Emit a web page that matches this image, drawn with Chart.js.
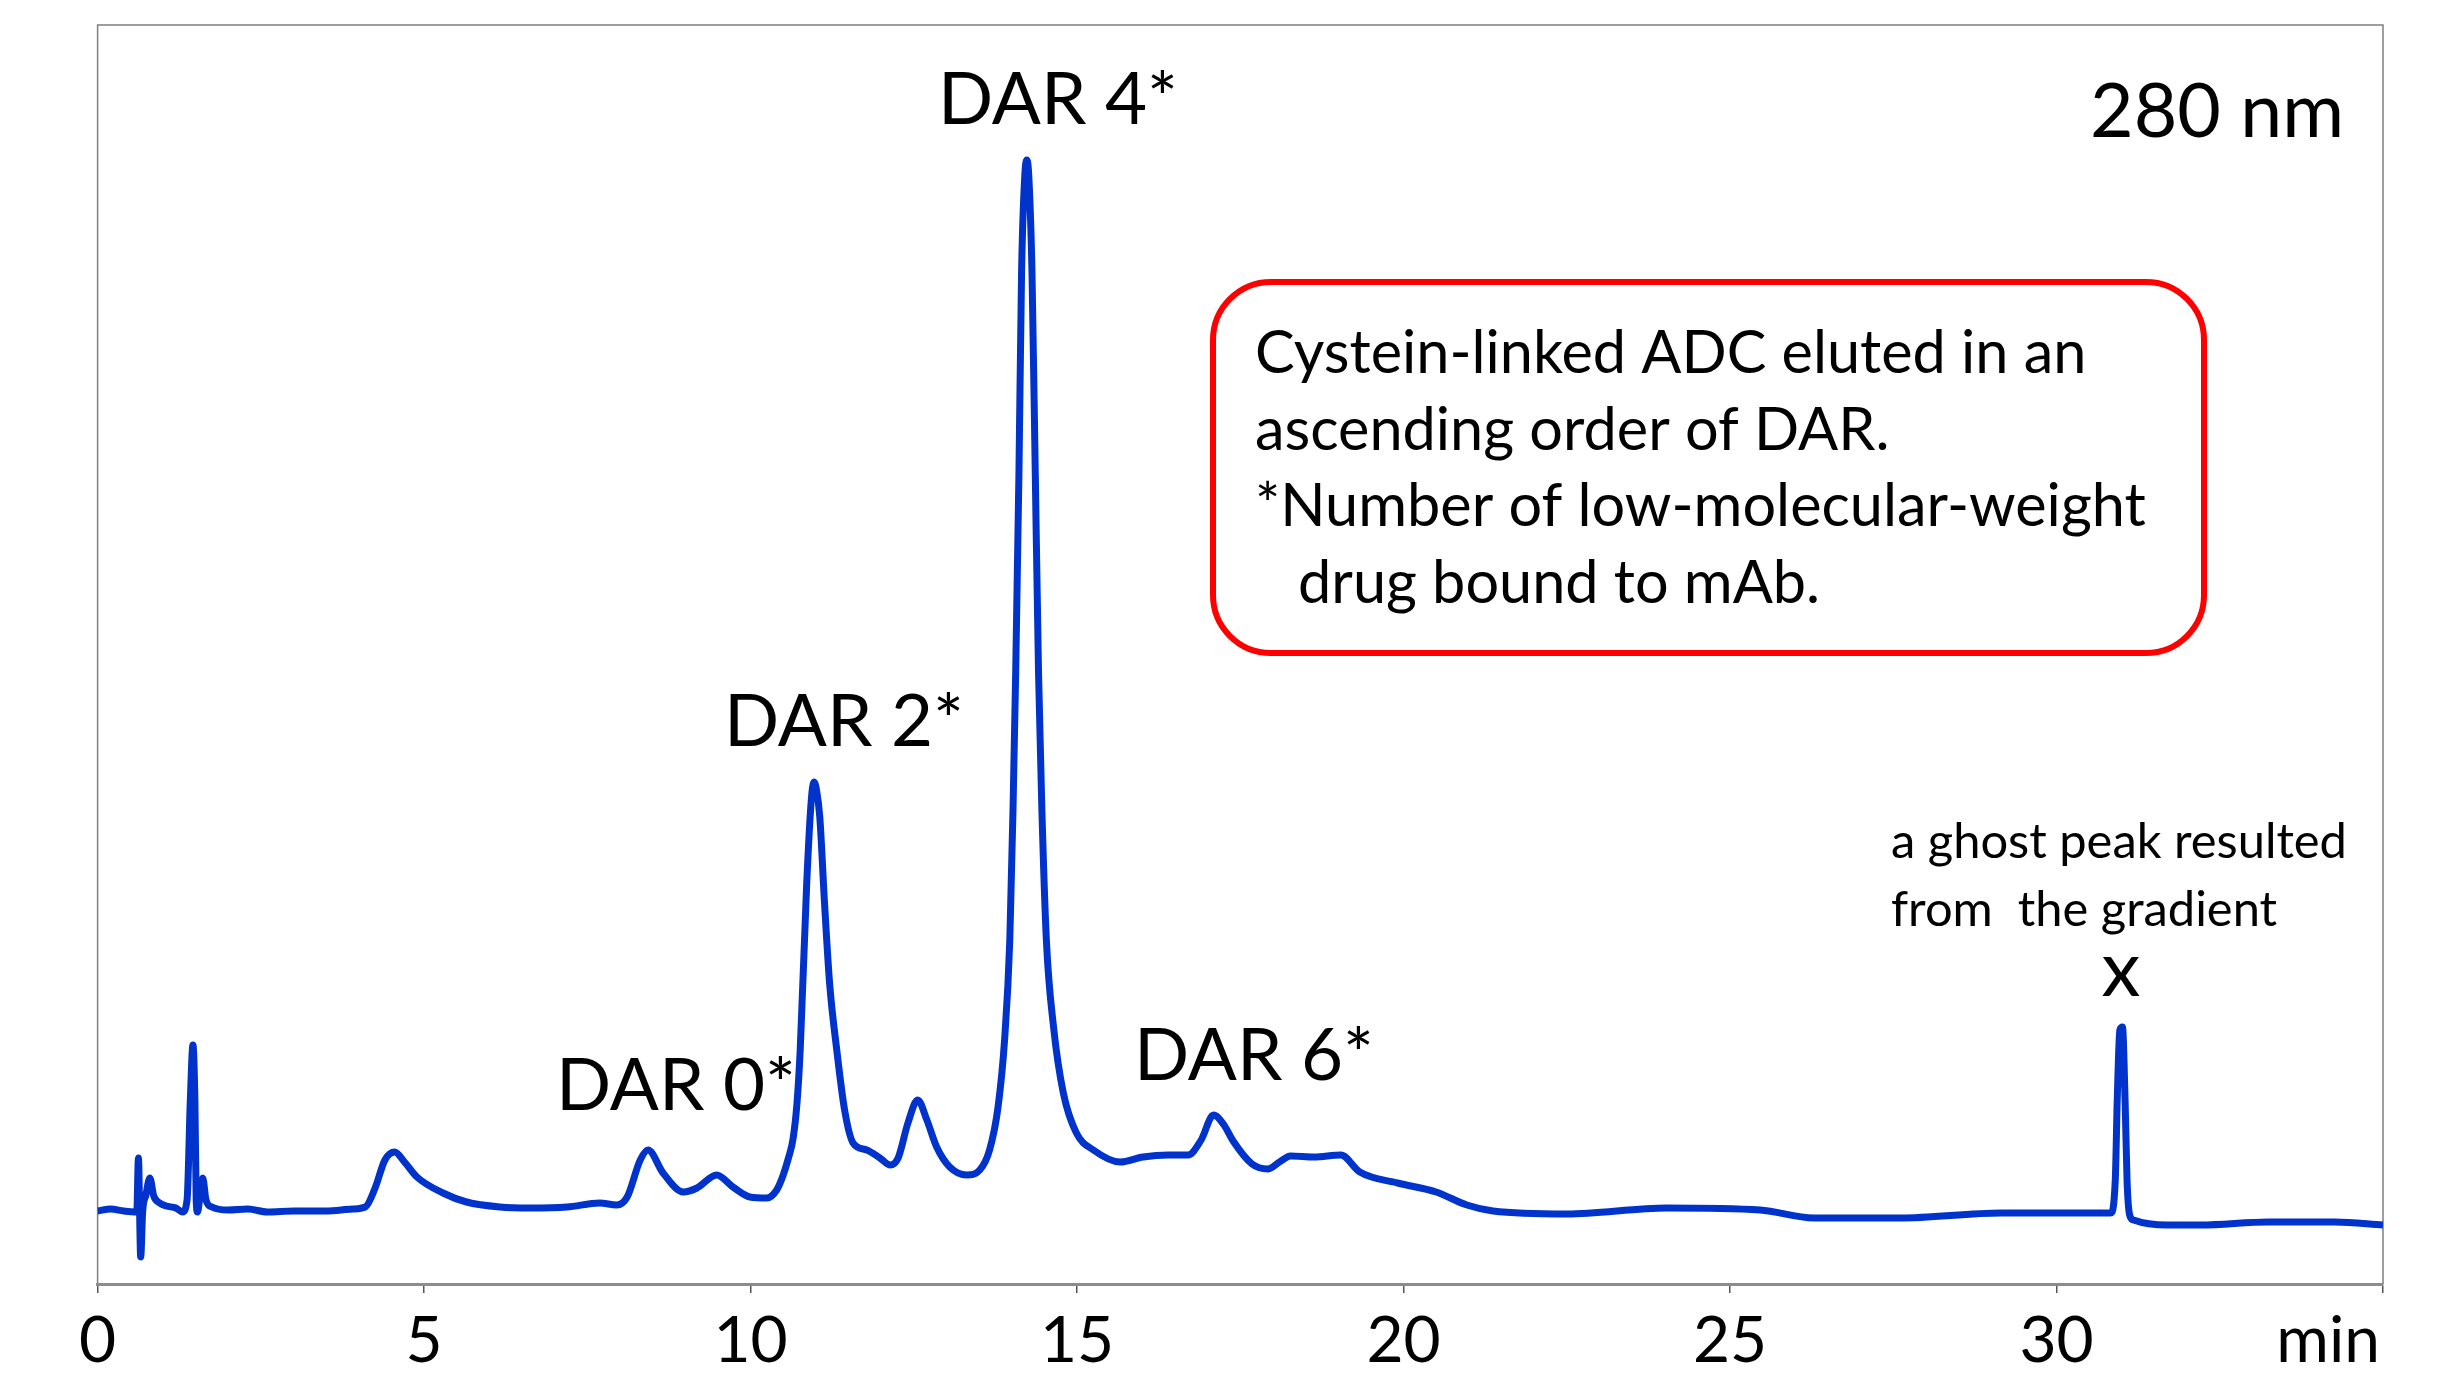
<!DOCTYPE html>
<html>
<head>
<meta charset="utf-8">
<title>Cysteine-linked ADC, 280 nm</title>
<script src="https://cdn.jsdelivr.net/npm/chart.js@4.4.1/dist/chart.umd.min.js"></script>
<style>
  html, body { margin: 0; padding: 0; background: #fff; }
  #wrap { width: 2447px; height: 1381px; position: relative; }
</style>
</head>
<body>
<div id="wrap"><canvas id="chromChart"></canvas></div>
<script>
// retention time (min) and 280 nm response (arbitrary units)
var retentionTime = [
  0, 0.2, 0.4, 0.6, 0.625, 0.66, 0.69, 0.74, 0.8, 0.86, 0.95, 1.05, 1.2, 1.3,
  1.37, 1.42, 1.46, 1.49, 1.51, 1.53, 1.57, 1.61, 1.66, 1.75, 2.0, 2.3, 2.6, 3.0,
  3.5, 3.9, 4.1, 4.25, 4.4, 4.55, 4.7, 4.89, 5.29, 5.65, 6.16, 6.62, 7.19, 7.69,
  7.95, 8.11, 8.31, 8.43, 8.66, 8.97, 9.18, 9.48, 9.73, 9.99, 10.25, 10.4,
  10.5, 10.58, 10.65, 10.71, 10.76, 10.86, 10.93, 10.97, 11.01, 11.06, 11.13, 11.21, 11.32,
  11.44, 11.57, 11.78, 11.98, 12.14, 12.26, 12.41, 12.56, 12.7, 12.85, 13.05, 13.31,
  13.51, 13.66, 13.79, 13.89, 13.97, 14.02, 14.06, 14.11, 14.15, 14.2, 14.23, 14.26,
  14.31, 14.36, 14.41, 14.46, 14.53, 14.64, 14.79, 14.99, 15.25, 15.66, 16.01, 16.4,
  16.7, 16.9, 17.09, 17.25, 17.39, 17.68, 17.92, 18.1, 18.27, 18.63, 19.04, 19.33,
  19.91, 20.5, 20.97, 21.37, 22.5, 24.03, 25.46, 26.28, 27.6, 29.15, 30.83, 30.9,
  30.93, 30.97, 31.01, 31.05, 31.08, 31.12, 31.18, 31.7, 32.21, 33.24, 34.26, 35
];
var absorbance = [
  7.3, 7.5, 7.3, 7.2, 12.6, 2.7, 7.2, 8.9, 10.6, 8.8, 8.1, 7.8, 7.6, 7.2,
  8.4, 18.4, 23.9, 18.4, 8.4, 7.2, 8.9, 10.6, 8.4, 7.7, 7.4, 7.5, 7.2, 7.3,
  7.3, 7.5, 7.7, 9.6, 12.4, 13.2, 12.2, 10.7, 9.1, 8.2, 7.7, 7.6, 7.7, 8.1,
  7.9, 8.7, 12.4, 13.4, 11.1, 9.2, 9.6, 10.9, 9.7, 8.7, 8.6, 9.4,
  10.9, 12.6, 14.5, 18.0, 23.4, 40.1, 48.4, 50.2, 49.4, 46.7, 38.4, 30.1, 23.4,
  17.4, 14.1, 13.4, 12.6, 11.9, 12.6, 16.1, 18.4, 16.4, 13.7, 11.7, 10.9,
  11.4, 13.4, 17.7, 24.4, 34.4, 47.7, 61.1, 81.1, 101.1, 110.9, 112.4, 110.9,
  101.1, 81.1, 61.1, 47.7, 34.4, 25.7, 19.1, 15.1, 13.4, 12.2, 12.7, 12.9,
  12.9, 14.4, 16.9, 15.9, 14.3, 12.0, 11.5, 12.2, 12.8, 12.7, 12.9, 11.2,
  10.1, 9.2, 7.9, 7.3, 7.0, 7.6, 7.4, 6.6, 6.6, 7.1, 7.1, 10.4,
  18.4, 25.4, 25.7, 18.4, 10.4, 6.9, 6.4, 5.9, 5.9, 6.2, 6.2, 5.9
];
var timeTicks = [0, 5, 10, 15, 20, 25, 30, 35];
var axisUnit = 'min';
var wavelengthLabel = '280 nm';
var peakLabels = ['DAR 0*', 'DAR 2*', 'DAR 4*', 'DAR 6*'];
var noteLines = ['Cystein-linked ADC eluted in an', 'ascending order of DAR.',
                 '*Number of low-molecular-weight', 'drug bound to mAb.'];
var ghostNote = ['a ghost peak resulted', 'from  the gradient', 'x'];

var FONT = 'Lato, "Open Sans", sans-serif';

function fitSize(ctx, text, width) {
  ctx.font = '100px ' + FONT;
  return 100 * width / ctx.measureText(text).width;
}

var annotate = {
  id: 'annotate',
  beforeDraw: function (chart) {
    var ctx = chart.ctx, a = chart.chartArea;
    ctx.save();
    ctx.strokeStyle = '#7f7f7f';
    ctx.lineWidth = 1.5;
    ctx.beginPath();
    ctx.moveTo(a.left, a.bottom);
    ctx.lineTo(a.left, a.top);
    ctx.lineTo(a.right, a.top);
    ctx.lineTo(a.right, a.bottom);
    ctx.stroke();
    ctx.restore();
  },
  afterDraw: function (chart) {
    var ctx = chart.ctx;
    ctx.save();
    ctx.fillStyle = '#000';
    ctx.textBaseline = 'alphabetic';
    ctx.textAlign = 'left';

    // peak names
    var s = fitSize(ctx, peakLabels[0], 240);
    ctx.font = s + 'px ' + FONT;
    ctx.fillText(peakLabels[0], 556, 1110);
    ctx.fillText(peakLabels[1], 724, 746);
    ctx.fillText(peakLabels[2], 938, 124);
    ctx.fillText(peakLabels[3], 1134, 1080);

    // wavelength
    s = fitSize(ctx, wavelengthLabel, 254);
    ctx.font = s + 'px ' + FONT;
    ctx.textAlign = 'right';
    ctx.fillText(wavelengthLabel, 2344, 137);

    // axis unit
    ctx.font = '64px ' + FONT;
    ctx.fillText(axisUnit, 2380, 1362);
    ctx.textAlign = 'left';

    // red note box
    ctx.strokeStyle = '#ff0000';
    ctx.lineWidth = 6;
    ctx.beginPath();
    ctx.roundRect(1213, 282, 991, 371, 58);
    ctx.stroke();
    s = fitSize(ctx, noteLines[2], 891);
    ctx.font = s + 'px ' + FONT;
    noteLines.forEach(function (line, i) {
      ctx.fillText(line, i === 3 ? 1298 : 1255, 373 + i * 76.7);
    });

    // ghost peak note
    s = fitSize(ctx, ghostNote[0], 456);
    ctx.font = s + 'px ' + FONT;
    ctx.fillText(ghostNote[0], 1891, 858);
    ctx.fillText(ghostNote[1], 1891, 926);
    ctx.font = '78px ' + FONT;
    ctx.textAlign = 'center';
    ctx.fillText(ghostNote[2], 2121, 996);
    ctx.restore();
  }
};

function draw() {
  var points = retentionTime.map(function (t, i) { return { x: t, y: absorbance[i] }; });

  new Chart(document.getElementById('chromChart'), {
    type: 'line',
    data: {
      datasets: [{
        label: '280 nm',
        data: points,
        borderColor: '#0033cc',
        borderWidth: 7,
        pointRadius: 0,
        fill: false,
        cubicInterpolationMode: 'monotone'
      }]
    },
    options: {
      responsive: true,
      maintainAspectRatio: false,
      animation: false,
      layout: { padding: { left: 97.6, right: 64, top: 25, bottom: 0 } },
      plugins: { legend: { display: false }, tooltip: { enabled: false } },
      scales: {
        x: {
          type: 'linear',
          min: 0,
          max: 35,
          afterBuildTicks: function (scale) {
            scale.ticks = timeTicks.map(function (v) { return { value: v }; });
          },
          afterFit: function (scale) { scale.height = 97; },
          ticks: {
            autoSkip: false,
            maxRotation: 0,
            padding: 10,
            color: '#000',
            font: { family: FONT, size: 64 },
            callback: function (v) { return v === 35 ? '' : v; }
          },
          grid: { drawOnChartArea: false, drawTicks: true, tickLength: 9, color: '#555', lineWidth: 1.5 },
          border: { display: true, color: '#8c8c8c', width: 3 }
        },
        y: {
          display: false,
          min: 0,
          max: 125.9
        }
      }
    },
    plugins: [annotate]
  });
}

if (document.fonts && document.fonts.load) {
  document.fonts.load('64px Lato').then(draw, draw);
} else {
  draw();
}
</script>
</body>
</html>
